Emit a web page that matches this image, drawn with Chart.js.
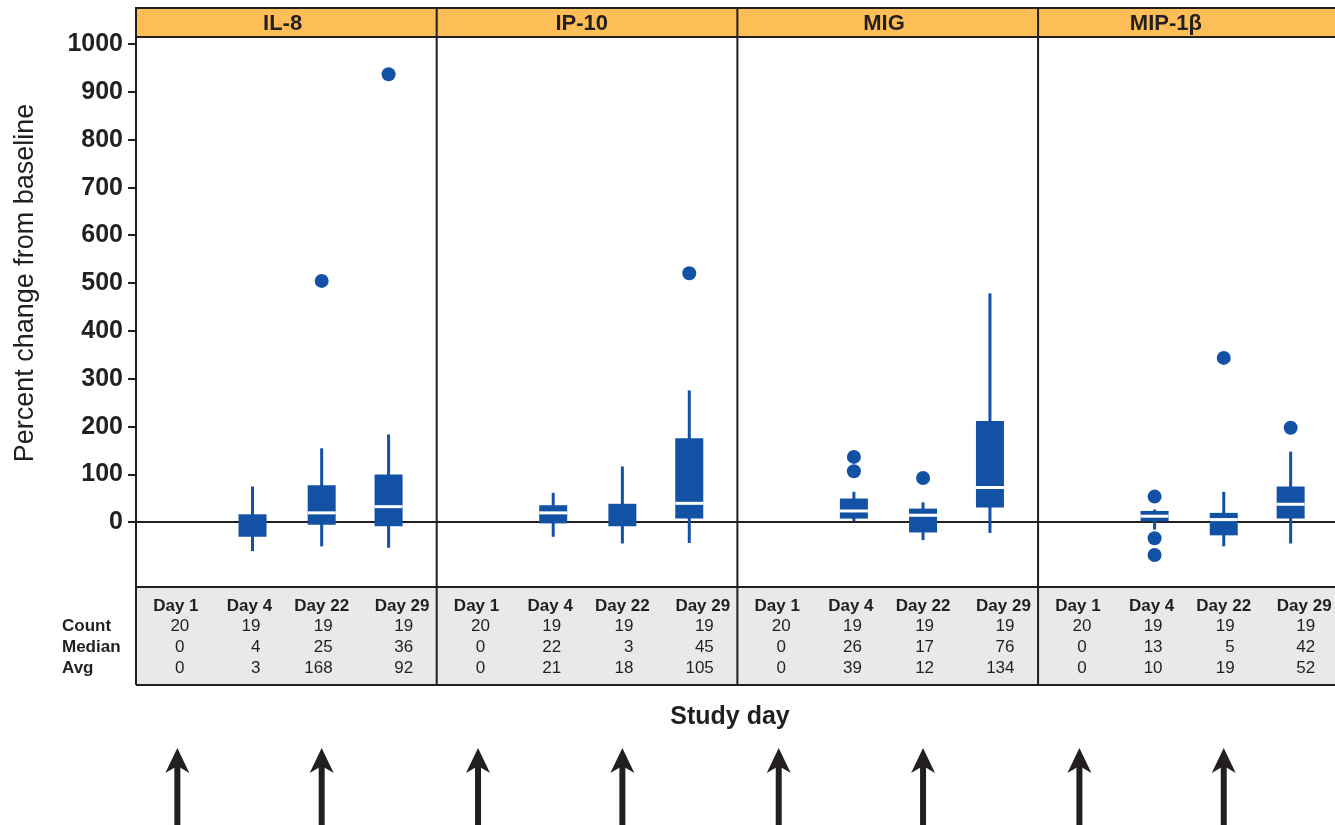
<!DOCTYPE html>
<html>
<head>
<meta charset="utf-8">
<script src="https://cdn.jsdelivr.net/npm/chart.js@4.4.1/dist/chart.umd.min.js"></script>
<style>
  html, body { margin: 0; padding: 0; background: #fff; overflow: hidden; }
  #wrap { width: 1335px; height: 825px; position: relative; }
  #chart { display: block; }
</style>
</head>
<body>
<div id="wrap"><canvas id="chart"></canvas></div>
<script>
/* ── DATA ─────────────────────────────────────────────── */
const panels = ['IL-8', 'IP-10', 'MIG', 'MIP-1β'];
const days = ['Day 1', 'Day 4', 'Day 22', 'Day 29'];
const rowLabels = ['Count', 'Median', 'Avg'];
const yTicks = [0, 100, 200, 300, 400, 500, 600, 700, 800, 900, 1000];

// box plot pieces, one row per panel, one value per day (Day 1 has no box)
const whiskerLow  = [[null, -60, -50, -53], [null, -30, -44, -43], [null, 0, -37, -22], [null, -15, -50, -44]];
const boxLow      = [[null, -30, -5, -8],   [null, -2, -8, 8],     [null, 8, -21, 31],  [null, 0, -27, 8]];
const boxMid      = [[null, null, 20, 33],  [null, 20, null, 40],  [null, 24, 15, 73],  [null, 13, 6, 38]];
const boxHigh     = [[null, 17, 78, 100],   [null, 36, 39, 176],   [null, 50, 29, 212], [null, 24, 20, 75]];
const whiskerHigh = [[null, 75, 155, 184],  [null, 62, 117, 276],  [null, 64, 42, 479], [null, 27, 64, 148]];
const outliers = [
    [[], [], [505], [937]],
    [[], [], [], [521]],
    [[], [137, 107], [93], []],
    [[], [54, -33, -68], [344], [198]],
];

// table under the plot
const counts  = [[20, 19, 19, 19], [20, 19, 19, 19], [20, 19, 19, 19], [20, 19, 19, 19]];
const medians = [[0, 4, 25, 36], [0, 22, 3, 45], [0, 26, 17, 76], [0, 13, 5, 42]];
const avgs    = [[0, 3, 168, 92], [0, 21, 18, 105], [0, 39, 12, 134], [0, 10, 19, 52]];

// dosing arrows under these days
const arrowDays = ['Day 1', 'Day 22'];

/* ── LAYOUT ───────────────────────────────────────────── */
const DAY_POS = [0.55, 1.55, 2.47, 3.36];     // box centre inside a panel (panel = 4 units)
const TABLE_POS = [0.53, 1.51, 2.47, 3.54];   // table column centres
const TITLE_POS = [1.95, 1.93, 1.95, 1.70];   // header text centres
const FONT = "'Liberation Sans', Arial, sans-serif";
const INK = '#231f20';
const BLUE = '#1351a5';

const xOf = (p, d) => p * 4 + DAY_POS[d];

function rangePoints(lo, hi) {
    const out = [];
    panels.forEach((_, p) => days.forEach((_, d) => {
        if (lo[p][d] != null && hi[p][d] != null) out.push({ x: xOf(p, d), y: [lo[p][d], hi[p][d]] });
    }));
    return out;
}
function valuePoints(src) {
    const out = [];
    panels.forEach((_, p) => days.forEach((_, d) => {
        if (src[p][d] != null) out.push({ x: xOf(p, d), y: src[p][d] });
    }));
    return out;
}
function outlierPoints() {
    const out = [];
    panels.forEach((_, p) => days.forEach((_, d) => {
        outliers[p][d].forEach(v => out.push({ x: xOf(p, d), y: v }));
    }));
    return out;
}

/* ── DECORATION: header, dividers, table, arrows ─────── */
const decor = {
    id: 'decor',
    afterDraw(chart) {
        const { ctx, chartArea: a, scales: { x } } = chart;
        const right = chart.width + 5;
        const headTop = 8, tblBottom = 685;
        ctx.save();

        // orange header band
        ctx.fillStyle = '#fdbe57';
        ctx.fillRect(a.left, headTop, right - a.left, a.top - headTop);
        ctx.strokeStyle = INK;
        ctx.lineWidth = 2;
        ctx.strokeRect(a.left, headTop, right - a.left, a.top - headTop);

        // table background
        ctx.fillStyle = '#e8e9e9';
        ctx.fillRect(a.left, a.bottom, right - a.left, tblBottom - a.bottom);
        ctx.beginPath();
        ctx.moveTo(a.left, a.bottom); ctx.lineTo(right, a.bottom);
        ctx.moveTo(a.left, tblBottom); ctx.lineTo(right, tblBottom);
        ctx.moveTo(a.left, headTop); ctx.lineTo(a.left, tblBottom);
        for (let p = 1; p < panels.length; p++) {
            const px = x.getPixelForValue(p * 4);
            ctx.moveTo(px, headTop); ctx.lineTo(px, tblBottom);
        }
        ctx.stroke();

        // panel titles
        ctx.fillStyle = INK;
        ctx.textAlign = 'center';
        ctx.textBaseline = 'middle';
        ctx.font = `bold 22px ${FONT}`;
        panels.forEach((name, p) => {
            ctx.fillText(name, x.getPixelForValue(p * 4 + TITLE_POS[p]), (headTop + a.top) / 2 + 1);
        });

        // table
        const rowY = [626, 647, 668];
        ctx.font = `bold 17px ${FONT}`;
        ctx.textAlign = 'left';
        rowLabels.forEach((lab, i) => ctx.fillText(lab, 62, rowY[i]));
        panels.forEach((_, p) => {
            days.forEach((day, d) => {
                const cx = x.getPixelForValue(p * 4 + TABLE_POS[d]);
                ctx.font = `bold 17px ${FONT}`;
                ctx.textAlign = 'center';
                ctx.fillText(day, cx, 606);
                ctx.font = `17px ${FONT}`;
                // first column centred, the others right aligned like the source table
                ctx.textAlign = d === 0 ? 'center' : 'right';
                const vx = d === 0 ? cx + 4 : cx + 11;
                [counts, medians, avgs].forEach((src, i) => ctx.fillText(String(src[p][d]), vx, rowY[i]));
            });
        });

        // axis titles
        ctx.textAlign = 'center';
        ctx.font = `bold 25px ${FONT}`;
        ctx.fillText('Study day', 730, 717);
        ctx.save();
        ctx.translate(26, 283);
        ctx.rotate(-Math.PI / 2);
        ctx.font = `27px ${FONT}`;
        ctx.fillText('Percent change from baseline', 0, 0);
        ctx.restore();

        // arrows
        ctx.fillStyle = INK;
        ctx.strokeStyle = INK;
        ctx.lineWidth = 6;
        ctx.lineJoin = 'round';
        panels.forEach((_, p) => {
            arrowDays.forEach(day => {
                const ax = x.getPixelForValue(xOf(p, days.indexOf(day)));
                ctx.beginPath();
                ctx.moveTo(ax, 764); ctx.lineTo(ax, 826);
                ctx.stroke();
                ctx.beginPath();
                ctx.moveTo(ax, 748);
                ctx.lineTo(ax - 12, 773);
                ctx.lineTo(ax, 766);
                ctx.lineTo(ax + 12, 773);
                ctx.closePath();
                ctx.fill();
            });
        });
        ctx.restore();
    },
};

/* ── CHART ────────────────────────────────────────────── */
new Chart(document.getElementById('chart'), {
    type: 'bar',
    data: {
        datasets: [
            {
                type: 'scatter',
                label: 'Outliers',
                data: outlierPoints(),
                pointStyle: 'circle',
                pointRadius: 7,
                backgroundColor: BLUE,
                borderWidth: 0,
                order: 1,
            },
            {
                type: 'scatter',
                label: 'Median',
                data: valuePoints(boxMid),
                pointStyle: 'line',
                pointRadius: 14,
                borderColor: '#ffffff',
                borderWidth: 3,
                order: 2,
            },
            {
                label: 'IQR',
                data: rangePoints(boxLow, boxHigh),
                backgroundColor: BLUE,
                borderWidth: 0,
                grouped: false,
                maxBarThickness: 28,
                order: 3,
            },
            {
                label: 'Range',
                data: rangePoints(whiskerLow, whiskerHigh),
                backgroundColor: BLUE,
                borderWidth: 0,
                grouped: false,
                maxBarThickness: 3,
                order: 4,
            },
        ],
    },
    options: {
        responsive: true,
        maintainAspectRatio: false,
        animation: false,
        layout: { autoPadding: false, padding: { left: 0, right: 0, top: 37, bottom: 238 } },
        plugins: { legend: { display: false }, tooltip: { enabled: false } },
        scales: {
            x: { type: 'linear', min: 0, max: 15.95, offset: false, display: false },
            y: {
                min: -135,
                max: 1015,
                afterBuildTicks: s => { s.ticks = yTicks.map(v => ({ value: v })); },
                afterFit: s => { s.width = 136; },
                border: { display: true, color: INK, width: 2 },
                grid: {
                    color: c => (c.tick && c.tick.value === 0 ? INK : 'rgba(0,0,0,0)'),
                    lineWidth: 2,
                    tickColor: INK,
                    tickLength: 8,
                    tickWidth: 2,
                },
                ticks: {
                    color: INK,
                    padding: 5,
                    font: { family: FONT, size: 25, weight: 'bold' },
                    callback: v => String(v),
                },
            },
        },
    },
    plugins: [decor],
});
</script>
</body>
</html>
